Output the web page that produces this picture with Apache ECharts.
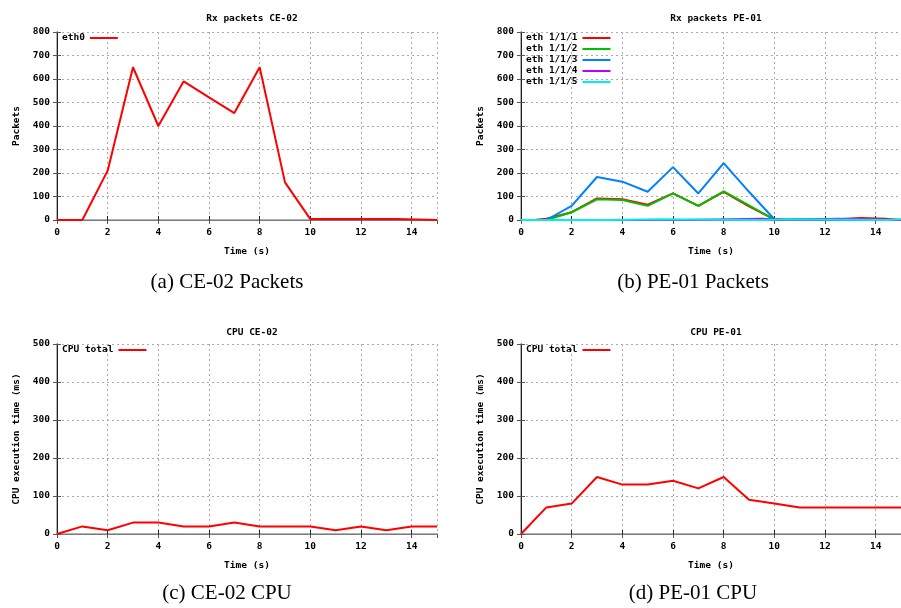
<!DOCTYPE html>
<html>
<head>
<meta charset="utf-8">
<script src="https://cdn.jsdelivr.net/npm/echarts@6/dist/echarts.min.js"></script>
<style>
  html, body { margin: 0; padding: 0; background: #fff; }
  #chart { width: 901px; height: 608px; }
</style>
</head>
<body>
<div id="chart"></div>
<script>
// Rx packets CE-02, eth0
var ceRxTime = [0, 1, 2, 3, 4, 5, 6, 7, 8, 9, 10, 13.4, 13.4, 15];
var ceRxEth0 = [0, 0, 210, 650, 400, 590, 522, 455, 650, 160, 4, 4, 0, 0];

// Rx packets PE-01, one x list per interface
var peTime1 = [0, 0.5, 0.5, 1, 2, 3, 4, 5, 6, 7, 8, 9, 10, 12.5, 12.5, 13.4, 13.4, 14.4, 14.4, 15];
var peEth1 = [0, 0, 5, 5, 33, 92, 88, 65, 113, 60, 120, 58, 3, 3, 8, 8, 5, 5, 0, 0];
var peTime2 = [0, 1, 2, 3, 4, 5, 6, 7, 8, 9, 10, 15];
var peEth2 = [0, 0, 33, 88, 85, 60, 113, 60, 122, 62, 2, 0];
var peTime3 = [0, 1, 2, 3, 4, 5, 6, 7, 8, 9, 10, 15];
var peEth3 = [0, 0, 60, 183, 163, 120, 225, 113, 242, 120, 3, 0];
var peTime4 = [0, 6.5, 6.5, 9.5, 9.5, 10.5, 10.5, 12.5, 12.5, 15];
var peEth4 = [0, 0, 5, 5, 0, 0, 5, 5, 0, 0];
var peTime5 = [0, 3.5, 3.5, 5.5, 5.5, 9.5, 9.5, 10.5, 10.5, 14.4, 14.4, 15];
var peEth5 = [0, 0, 3, 3, 0, 0, 3, 3, 0, 0, 3, 3];

// CPU total
var cpuTime = [0, 1, 2, 3, 4, 5, 6, 7, 8, 9, 10, 11, 12, 13, 14, 15];
var cpuCE = [0, 20, 10, 30, 30, 20, 20, 30, 20, 20, 20, 10, 20, 10, 20, 20];
var cpuPE = [0, 70, 80, 150, 130, 130, 140, 120, 150, 90, 80, 70, 70, 70, 70, 70];

var peNames = ['eth 1/1/1', 'eth 1/1/2', 'eth 1/1/3', 'eth 1/1/4', 'eth 1/1/5'];
var peColors = ['#ff0000', '#00c000', '#0080ff', '#c000ff', '#00eeee'];

var chartTitles = ['Rx packets CE-02', 'Rx packets PE-01', 'CPU CE-02', 'CPU PE-01'];
var captions = ['(a) CE-02 Packets', '(b) PE-01 Packets', '(c) CE-02 CPU', '(d) PE-01 CPU'];
var yNames = ['Packets', 'Packets', 'CPU execution time (ms)', 'CPU execution time (ms)'];
var yMax = [800, 800, 500, 500];

var mono = 'DejaVu Sans Mono';
var boxes = [
  { left: 57, top: 32, width: 380, height: 188 },
  { left: 521, top: 32, width: 382, height: 188 },
  { left: 57, top: 344, width: 380, height: 190 },
  { left: 521, top: 344, width: 382, height: 190 }
];

function pairs(xs, ys) {
  return xs.map(function (x, i) { return [x, ys[i]]; });
}

var grid = [], xAxis = [], yAxis = [], title = [], legend = [], series = [];
var lbl = { color: '#000', fontFamily: mono, fontWeight: 'bold', fontSize: 9.5 };
var dotted = { show: true, lineStyle: { color: '#aaa', type: [2, 3], width: 1 } };

boxes.forEach(function (b, k) {
  grid.push(b);
  var cx = b.left + 190;
  title.push({
    text: chartTitles[k], left: cx, top: k < 2 ? 9 : 323, textAlign: 'center',
    textStyle: { fontFamily: mono, fontWeight: 'bold', fontSize: 9.5, color: '#000' }
  });
  title.push({
    text: captions[k], left: k % 2 ? 688 : 222, top: k < 2 ? 267 : 578, textAlign: 'center',
    textStyle: { fontFamily: 'Liberation Serif', fontWeight: 'normal', fontSize: 21, color: '#000' }
  });
  xAxis.push({
    type: 'value', gridIndex: k, min: 0, max: 15, interval: 2,
    name: 'Time (s)', nameLocation: 'middle', nameGap: 27,
    nameTextStyle: lbl,
    axisLine: { lineStyle: { color: '#222', width: 1 } },
    axisTick: { inside: true, length: 4, lineStyle: { color: '#222' } },
    axisLabel: Object.assign({ margin: 8, showMaxLabel: false }, lbl),
    splitLine: dotted
  });
  xAxis.push({
    type: 'value', gridIndex: k, position: 'top', min: 0, max: 15, interval: 2,
    axisLine: { lineStyle: { color: '#999', width: 1.5 } },
    axisTick: { inside: true, length: 4, lineStyle: { color: '#555' } },
    axisLabel: { show: false }, splitLine: { show: false }
  });
  yAxis.push({
    type: 'value', gridIndex: k, min: 0, max: yMax[k], interval: 100,
    name: yNames[k], nameLocation: 'middle', nameGap: 35,
    nameTextStyle: lbl,
    axisLine: { show: true, lineStyle: { color: '#999', width: 1.5 } },
    axisTick: { show: true, inside: true, length: 4, lineStyle: { color: '#555' } },
    axisLabel: Object.assign({ margin: 7 }, lbl),
    splitLine: dotted
  });
  yAxis.push({
    type: 'value', gridIndex: k, position: 'right', min: 0, max: yMax[k], interval: 100,
    axisLine: { show: true, lineStyle: { color: '#222', width: 1 } },
    axisTick: { show: true, inside: true, length: 4, lineStyle: { color: '#555' } },
    axisLabel: { show: false }, splitLine: { show: false }
  });
});

function addLine(k, name, color, xs, ys) {
  series.push({
    type: 'line', name: name, xAxisIndex: 2 * k, yAxisIndex: 2 * k,
    data: pairs(xs, ys), showSymbol: false, symbol: 'none',
    color: color, lineStyle: { color: color, width: 2 }, animation: false
  });
}

addLine(0, 'eth0', '#ff0000', ceRxTime, ceRxEth0);
addLine(1, peNames[0], peColors[0], peTime1, peEth1);
addLine(1, peNames[1], peColors[1], peTime2, peEth2);
addLine(1, peNames[2], peColors[2], peTime3, peEth3);
addLine(1, peNames[3], peColors[3], peTime4, peEth4);
addLine(1, peNames[4], peColors[4], peTime5, peEth5);
addLine(2, 'CPU total', '#ff0000', cpuTime, cpuCE);
addLine(3, 'CPU total', '#ff0000', cpuTime, cpuPE);

var legendNames = [['eth0'], peNames, ['CPU total'], ['CPU total']];
boxes.forEach(function (b, k) {
  legend.push({
    data: legendNames[k], orient: 'vertical', align: 'right',
    left: b.left + 5, top: b.top + 0.5, padding: 0, itemGap: 0,
    itemWidth: 28, itemHeight: 2, icon: 'rect', selectedMode: false,
    textStyle: { fontFamily: mono, fontWeight: 'bold', fontSize: 9.5, color: '#000', lineHeight: 11 }
  });
});

var chart = echarts.init(document.getElementById('chart'), null, { renderer: 'canvas' });
chart.setOption({
  backgroundColor: '#fff',
  animation: false,
  title: title,
  legend: legend,
  grid: grid,
  xAxis: xAxis,
  yAxis: yAxis,
  series: series
});
</script>
</body>
</html>
